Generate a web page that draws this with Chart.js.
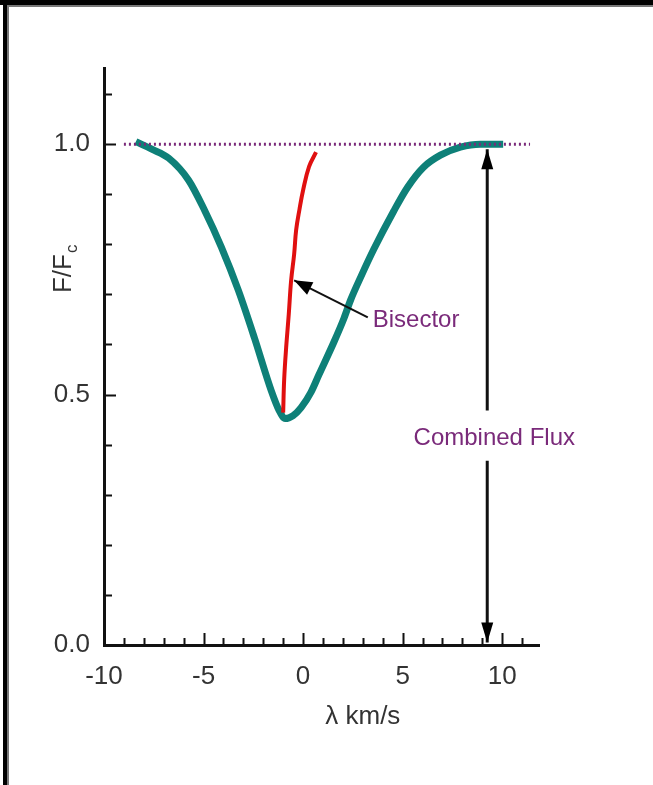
<!DOCTYPE html>
<html>
<head>
<meta charset="utf-8">
<script src="https://cdn.jsdelivr.net/npm/chart.js@4.4.1/dist/chart.umd.min.js"></script>
<style>
  body { margin: 0; background: #fff; }
  canvas { display: block; }
</style>
</head>
<body>
<canvas id="myChart" width="653" height="785"></canvas>
<script>
// perfil da linha espectral (velocidade em km/s, fluxo normalizado)
const profileX = [-8.4, -7.6, -6.75, -5.75, -4.95, -4.1, -3.25, -2.45, -1.6, -1.2, -0.9, -0.5, -0.1, 0.4, 0.8, 1.55, 2.05, 2.4, 2.9, 3.55, 4.55, 5.25, 6.05, 6.9, 7.9, 8.9, 10.05];
const profileY = [1.005, 0.99, 0.972, 0.928, 0.868, 0.794, 0.708, 0.614, 0.508, 0.468, 0.452, 0.458, 0.474, 0.505, 0.54, 0.605, 0.652, 0.69, 0.735, 0.79, 0.866, 0.914, 0.954, 0.978, 0.994, 1.0, 1.0];

// bissetor
const bisectorX = [-1.0, -0.95, -0.85, -0.72, -0.6, -0.45, -0.35, -0.18, 0.0, 0.3, 0.65];
const bisectorY = [0.464, 0.53, 0.594, 0.66, 0.728, 0.78, 0.828, 0.87, 0.908, 0.955, 0.984];

// contínuo (linha pontilhada)
const continuumX = [-9.0, 11.4];
const continuumY = [1.0, 1.0];

// seta do bissetor: cauda -> ponta
const bisArrowX = [3.25, -0.45];
const bisArrowY = [0.654, 0.728];

// seta "Combined Flux"
const fluxArrowX = 9.25;
const fluxTopY = [0.99, 0.468];
const fluxBottomY = [0.368, 0.005];

// ticks
const xTickLabels = [-10, -5, 0, 5, 10];
const yTickLabels = [0, 0.5, 1.0];
const xMinorTicks = [-9, -8, -7, -6, -4, -3, -2, -1, 1, 2, 3, 4, 6, 7, 8, 9, 11];
const yMinorTicks = [0.1, 0.2, 0.3, 0.4, 0.6, 0.7, 0.8, 0.9, 1.1];

const FONT = "'Liberation Sans', Arial, sans-serif";
const PURPLE = '#7a2a7a';

function pts(xs, ys) {
    return xs.map((x, i) => ({ x: x, y: ys[i] }));
}

function arrowHead(ctx, x, y, ang, len, half) {
    ctx.save();
    ctx.translate(x, y);
    ctx.rotate(ang);
    ctx.beginPath();
    ctx.moveTo(0, 0);
    ctx.lineTo(-len, -half);
    ctx.lineTo(-len, half);
    ctx.closePath();
    ctx.fillStyle = '#000';
    ctx.fill();
    ctx.restore();
}

const extras = {
    id: 'extras',
    afterDraw(chart) {
        const ctx = chart.ctx;
        const xs = chart.scales.x, ys = chart.scales.y;
        const area = chart.chartArea;

        // ticks para dentro
        ctx.save();
        ctx.strokeStyle = '#111';
        ctx.lineWidth = 2;
        ctx.beginPath();
        xTickLabels.concat(xMinorTicks).forEach(v => {
            const len = xTickLabels.includes(v) ? 12 : 7;
            const p = Math.round(xs.getPixelForValue(v)) + 0.5;
            ctx.moveTo(p, area.bottom);
            ctx.lineTo(p, area.bottom - len);
        });
        yTickLabels.concat(yMinorTicks).forEach(v => {
            const len = yTickLabels.includes(v) ? 12 : 8;
            const p = Math.round(ys.getPixelForValue(v)) + 0.5;
            ctx.moveTo(area.left, p);
            ctx.lineTo(area.left + len, p);
        });
        ctx.stroke();
        ctx.restore();

        // pontas das setas
        const tx = xs.getPixelForValue(bisArrowX[1]), ty = ys.getPixelForValue(bisArrowY[1]);
        const sx = xs.getPixelForValue(bisArrowX[0]), sy = ys.getPixelForValue(bisArrowY[0]);
        arrowHead(ctx, tx, ty, Math.atan2(ty - sy, tx - sx), 18, 7);
        const fx = xs.getPixelForValue(fluxArrowX);
        arrowHead(ctx, fx, ys.getPixelForValue(fluxTopY[0]), -Math.PI / 2, 20, 6);
        arrowHead(ctx, fx, ys.getPixelForValue(fluxBottomY[1]), Math.PI / 2, 20, 6);

        // textos
        ctx.save();
        ctx.fillStyle = PURPLE;
        ctx.font = '24px ' + FONT;
        ctx.textBaseline = 'middle';
        ctx.textAlign = 'left';
        ctx.fillText('Bisector', xs.getPixelForValue(3.5), ys.getPixelForValue(0.648));
        ctx.fillText('Combined Flux', xs.getPixelForValue(5.55), ys.getPixelForValue(0.412));

        ctx.fillStyle = '#333';
        ctx.font = '26px ' + FONT;
        ctx.textAlign = 'center';
        ctx.fillText('\u03bb km/s', xs.getPixelForValue(3.0), 717);

        // título do eixo y com subscrito
        ctx.translate(64, ys.getPixelForValue(0.75));
        ctx.rotate(-Math.PI / 2);
        ctx.textAlign = 'left';
        const w1 = ctx.measureText('F/F').width;
        ctx.font = '17px ' + FONT;
        const w2 = ctx.measureText('c').width;
        ctx.font = '26px ' + FONT;
        const x0 = -(w1 + w2) / 2;
        ctx.fillText('F/F', x0, 0);
        ctx.font = '17px ' + FONT;
        ctx.fillText('c', x0 + w1 + 1, 8);
        ctx.restore();

        // moldura
        ctx.save();
        ctx.fillStyle = '#000';
        ctx.fillRect(0, 0, chart.width, 5);
        ctx.fillRect(3, 0, 4, chart.height);
        ctx.fillStyle = '#777';
        ctx.fillRect(7, 5, chart.width - 7, 2);
        ctx.fillRect(7, 5, 2, chart.height - 5);
        ctx.restore();
    }
};

const ctx = document.getElementById('myChart').getContext('2d');

const config = {
    type: 'scatter',
    data: {
        datasets: [
            {
                data: pts(continuumX, continuumY),
                showLine: true, borderColor: PURPLE, borderWidth: 3,
                borderDash: [2, 3], pointRadius: 0
            },
            {
                data: pts(bisArrowX, bisArrowY),
                showLine: true, borderColor: '#111', borderWidth: 2, pointRadius: 0
            },
            {
                data: pts([fluxArrowX, fluxArrowX], fluxTopY),
                showLine: true, borderColor: '#111', borderWidth: 3, pointRadius: 0
            },
            {
                data: pts([fluxArrowX, fluxArrowX], fluxBottomY),
                showLine: true, borderColor: '#111', borderWidth: 3, pointRadius: 0
            },
            {
                data: pts(bisectorX, bisectorY),
                showLine: true, borderColor: '#e01010', borderWidth: 4,
                pointRadius: 0, tension: 0.4
            },
            {
                data: pts(profileX, profileY),
                showLine: true, borderColor: '#0e8078', borderWidth: 7,
                pointRadius: 0, cubicInterpolationMode: 'monotone'
            }
        ]
    },
    options: {
        responsive: false,
        animation: false,
        layout: { padding: { left: 0, top: 68, right: 114, bottom: 0 } },
        plugins: { legend: { display: false }, tooltip: { enabled: false } },
        scales: {
            x: {
                type: 'linear', min: -10, max: 11.85,
                grid: { display: false, drawTicks: false },
                border: { display: true, color: '#111', width: 3 },
                afterBuildTicks: s => { s.ticks = xTickLabels.map(v => ({ value: v })); },
                afterFit: s => { s.height = 140; },
                ticks: {
                    padding: 16, color: '#333', maxRotation: 0,
                    font: { family: FONT, size: 26 },
                    callback: v => String(v)
                }
            },
            y: {
                type: 'linear', min: 0, max: 1.152,
                grid: { display: false, drawTicks: false },
                border: { display: true, color: '#111', width: 3 },
                afterBuildTicks: s => { s.ticks = yTickLabels.map(v => ({ value: v })); },
                afterFit: s => { s.width = 104; },
                ticks: {
                    padding: 14, color: '#333',
                    font: { family: FONT, size: 26 },
                    callback: v => Number(v).toFixed(1)
                }
            }
        }
    },
    plugins: [extras]
};

let myChart = new Chart(ctx, config);
</script>
</body>
</html>
